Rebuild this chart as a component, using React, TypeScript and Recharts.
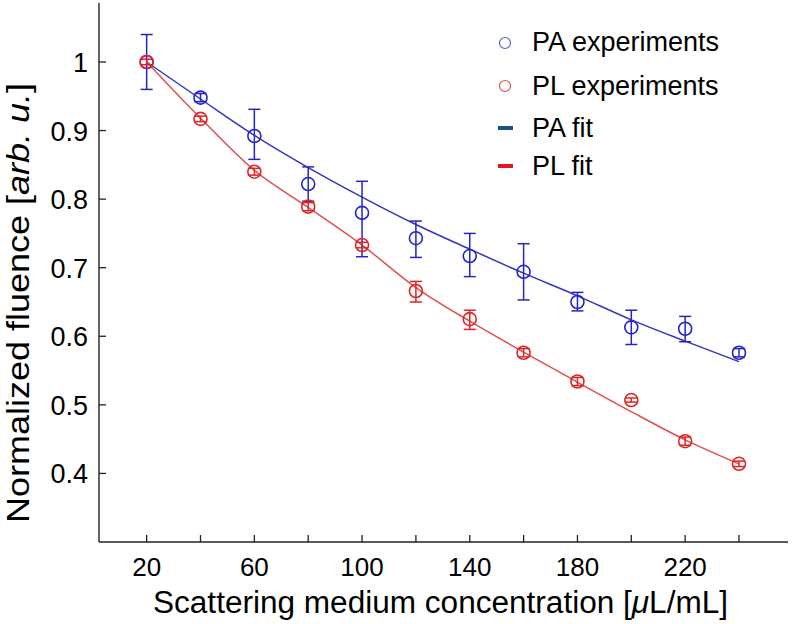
import React from "react";
import { ComposedChart, Line, Scatter, ErrorBar, XAxis, YAxis, Legend } from "recharts";

const FONT = '"Liberation Sans", Arial, Helvetica, sans-serif';

// concentration in uL/mL
const concentration = [20, 40, 60, 80, 100, 120, 140, 160, 180, 200, 220, 240];

// measured points (normalized fluence) and [down, up] error
const paExp = [1.0, 0.948, 0.892, 0.822, 0.78, 0.743, 0.717, 0.694, 0.65, 0.613, 0.611, 0.576];
const paErr = [
  [0.04, 0.04], [0.006, 0.006], [0.034, 0.039], [0.025, 0.025], [0.064, 0.046], [0.028, 0.025],
  [0.03, 0.033], [0.041, 0.041], [0.013, 0.014], [0.025, 0.025], [0.019, 0.018], [0.006, 0.006],
];
const plExp = [1.0, 0.917, 0.84, 0.789, 0.733, 0.666, 0.625, 0.576, 0.534, 0.507, 0.447, 0.414];
const plErr = [
  [0.004, 0.004], [0.004, 0.004], [0.005, 0.005], [0.006, 0.006], [0.004, 0.004], [0.016, 0.014],
  [0.015, 0.013], [0.006, 0.006], [0.006, 0.006], [0.003, 0.003], [0.006, 0.006], [0.004, 0.004],
];

// fitted curves
const paFit = [1.0, 0.946, 0.893, 0.846, 0.803, 0.763, 0.727, 0.692, 0.659, 0.624, 0.593, 0.563];
const plFit = [1.0, 0.918, 0.842, 0.788, 0.733, 0.671, 0.622, 0.577, 0.533, 0.49, 0.449, 0.414];

const xTicks = [20, 40, 60, 80, 100, 120, 140, 160, 180, 200, 220, 240];
const xTickLabels = [20, 60, 100, 140, 180, 220];
const topTicks = [40, 80, 120, 160, 200, 240];
const yTicks = [0.4, 0.5, 0.6, 0.7, 0.8, 0.9, 1.0];

const legendItems = [
  { label: "PA experiments", kind: "circle", color: "#5a5ac8" },
  { label: "PL experiments", kind: "circle", color: "#d85050" },
  { label: "PA fit", kind: "dash", color: "#1d4b98" },
  { label: "PL fit", kind: "dash", color: "#e8141c" },
];

const PA_COLOR = "#2424c8";
const PL_COLOR = "#e02424";
const AXIS = "#222";

const fitRows = concentration.map((x, i) => ({ x, paFit: paFit[i], plFit: plFit[i] }));
const paRows = concentration.map((x, i) => ({ x, y: paExp[i], err: paErr[i] }));
const plRows = concentration.map((x, i) => ({ x, y: plExp[i], err: plErr[i] }));

function BottomTick({ x, y, payload }: any) {
  const v = payload.value;
  return (
    <g>
      <line x1={x} y1={y} x2={x} y2={y - 7} stroke={AXIS} strokeWidth={1.3} />
      {xTickLabels.includes(v) && (
        <text x={x} y={y + 34} textAnchor="middle" fontSize={26} fontFamily={FONT} fill="#000">
          {v}
        </text>
      )}
    </g>
  );
}

function TopTick({ x, y }: any) {
  return <line x1={x} y1={y} x2={x} y2={y + 7} stroke={AXIS} strokeWidth={1.3} />;
}

function LeftTick({ x, y, payload }: any) {
  const v = payload.value;
  return (
    <g>
      <line x1={x} y1={y} x2={x + 7} y2={y} stroke={AXIS} strokeWidth={1.3} />
      <text x={x - 11} y={y + 10} textAnchor="end" fontSize={27} fontFamily={FONT} fill="#000">
        {v === 1 ? "1" : v.toFixed(1)}
      </text>
    </g>
  );
}

function RightTick({ x, y }: any) {
  return <line x1={x} y1={y} x2={x - 7} y2={y} stroke={AXIS} strokeWidth={1.3} />;
}

const ring = (color: string) => (p: any) =>
  <circle cx={p.cx} cy={p.cy} r={6.5} fill="none" stroke={color} strokeWidth={1.6} />;

function renderLegend() {
  const heights = [43, 44, 40, 36];
  return (
    <div style={{ fontFamily: FONT, fontSize: 27, color: "#000" }}>
      {legendItems.map((it, i) => (
        <div key={it.label} style={{ height: heights[i], display: "flex", alignItems: "center" }}>
          <svg width={30} height={20} style={{ marginRight: 12 }}>
            {it.kind === "circle" ? (
              <circle cx={15} cy={10} r={5.5} fill="none" stroke={it.color} strokeWidth={1.2} />
            ) : (
              <rect x={8} y={8} width={15} height={4} fill={it.color} />
            )}
          </svg>
          <span>{it.label}</span>
        </div>
      ))}
    </div>
  );
}

export default function App() {
  return (
    <div style={{ position: "absolute", left: 0, top: 0, width: 792, height: 624, background: "#fff" }}>
      <ComposedChart width={792} height={624} data={fitRows} margin={{ top: 3, right: 4, left: 0, bottom: 0 }}>
        <XAxis
          dataKey="x"
          type="number"
          domain={[2.3, 258.2]}
          ticks={xTicks}
          interval={0}
          height={82}
          tickSize={0}
          tickMargin={0}
          tick={<BottomTick />}
          axisLine={{ stroke: AXIS, strokeWidth: 1.4 }}
          label={(p: any) => {
            const vb = p.viewBox;
            return (
              <text
                x={vb.x + vb.width / 2 - 3}
                y={613}
                textAnchor="middle"
                fontSize={31}
                fontFamily={FONT}
                fill="#000"
                textLength={575}
                lengthAdjust="spacingAndGlyphs"
              >
                Scattering medium concentration [<tspan fontStyle="italic">μ</tspan>L/mL]
              </text>
            );
          }}
        />
        <XAxis
          xAxisId="top"
          orientation="top"
          dataKey="x"
          type="number"
          domain={[2.3, 258.2]}
          ticks={topTicks}
          interval={0}
          height={0}
          tickSize={0}
          tickMargin={0}
          tick={<TopTick />}
          axisLine={{ stroke: AXIS, strokeWidth: 1.4 }}
        />
        <YAxis
          type="number"
          domain={[0.3, 1.086]}
          ticks={yTicks}
          interval={0}
          width={99}
          tickSize={0}
          tickMargin={0}
          tick={<LeftTick />}
          axisLine={{ stroke: AXIS, strokeWidth: 1.4 }}
          label={() => (
            <text
              transform="translate(29, 303) rotate(-90)"
              textAnchor="middle"
              fontSize={31}
              fontFamily={FONT}
              fill="#000"
              textLength={440}
              lengthAdjust="spacingAndGlyphs"
            >
              Normalized fluence [<tspan fontStyle="italic">arb. u.</tspan>]
            </text>
          )}
        />
        <YAxis
          yAxisId="right"
          orientation="right"
          type="number"
          domain={[0.3, 1.086]}
          ticks={yTicks}
          interval={0}
          width={0}
          tickSize={0}
          tickMargin={0}
          tick={<RightTick />}
          axisLine={{ stroke: AXIS, strokeWidth: 1.4 }}
        />
        <Line dataKey="paFit" type="monotone" stroke="#3434c4" strokeWidth={1.5} dot={false} isAnimationActive={false} />
        <Line dataKey="plFit" type="monotone" stroke="#e05050" strokeWidth={1.5} dot={false} isAnimationActive={false} />
        <Scatter data={paRows} dataKey="y" shape={ring(PA_COLOR)} isAnimationActive={false}>
          <ErrorBar dataKey="err" direction="y" width={6} stroke={PA_COLOR} strokeWidth={1.5} isAnimationActive={false} />
        </Scatter>
        <Scatter data={plRows} dataKey="y" shape={ring(PL_COLOR)} isAnimationActive={false}>
          <ErrorBar dataKey="err" direction="y" width={6} stroke={PL_COLOR} strokeWidth={1.5} isAnimationActive={false} />
        </Scatter>
        <Legend
          layout="vertical"
          align="center"
          verticalAlign="middle"
          content={renderLegend}
          wrapperStyle={{ position: "absolute", left: 490, top: 21, width: 290 }}
        />
      </ComposedChart>
    </div>
  );
}
